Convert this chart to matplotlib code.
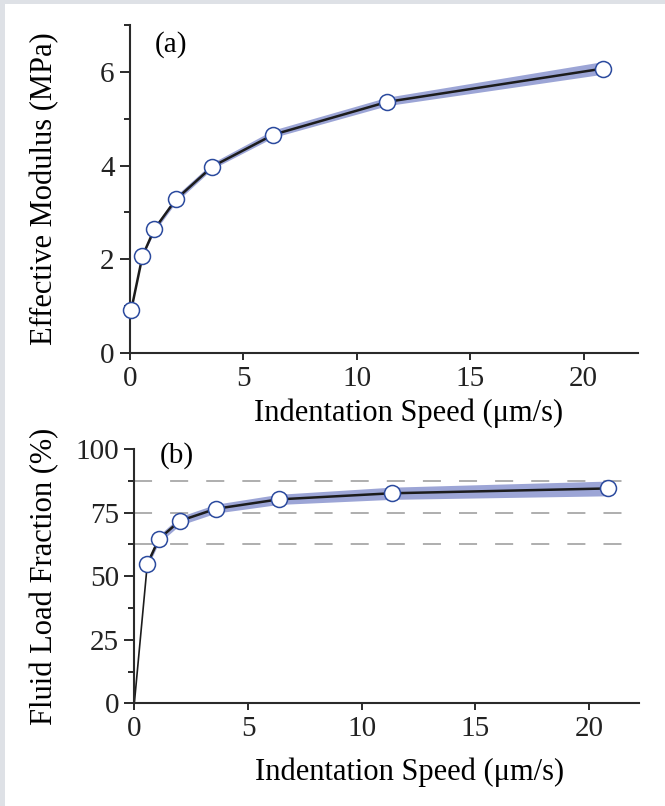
import numpy as np
import matplotlib.pyplot as plt
from matplotlib.patches import Rectangle

# indentation speeds (um/s)
speed_a = [0.05, 0.55, 1.07, 2.03, 3.63, 6.32, 11.35, 20.86]
modulus = [0.91, 2.07, 2.64, 3.28, 3.98, 4.66, 5.36, 6.07]
band_a_lo = [0.91, 2.06, 2.58, 3.22, 3.93, 4.60, 5.28, 5.95]
band_a_hi = [0.91, 2.10, 2.70, 3.36, 4.06, 4.76, 5.46, 6.22]

speed_b = [0.0, 0.57, 1.07, 1.99, 3.59, 6.35, 11.32, 20.83]
fluid_frac = [0.0, 54.7, 64.5, 71.7, 76.5, 80.2, 82.6, 84.5]
band_b_lo = [0.0, 53.5, 63.0, 70.0, 74.8, 78.2, 80.2, 81.6]
band_b_hi = [0.0, 56.0, 66.0, 73.4, 78.3, 82.2, 85.0, 87.4]
ref_levels = [62.5, 75, 87.5]

plt.rcParams['font.family'] = ['Liberation Serif', 'DejaVu Serif']
plt.rcParams['font.size'] = 21

line_col = '#1c1c1c'
band_col = '#9ca5d6'
edge_col = '#2b4a9e'
axis_col = '#2a2a2a'
label_size = 22


def style(ax):
    for s in ['top', 'right']:
        ax.spines[s].set_visible(False)
    for s in ['left', 'bottom']:
        ax.spines[s].set_linewidth(1.5)
        ax.spines[s].set_color(axis_col)
    ax.tick_params(axis='y', which='major', direction='out', length=7, width=1.4,
                   pad=4, colors=axis_col, labelcolor='#222222')
    ax.tick_params(axis='y', which='minor', direction='out', length=4.5, width=1.4,
                   colors=axis_col)
    ax.tick_params(axis='x', which='major', direction='out', length=5, width=1.4,
                   pad=4, colors=axis_col, labelcolor='#222222')


fig = plt.figure(figsize=(6.65, 8.06), dpi=100)
fig.patch.set_facecolor('#dee1e6')
fig.patches.append(Rectangle((5 / 665, 0), 1, 1 - 4 / 806, transform=fig.transFigure,
                             facecolor='white', edgecolor='none', zorder=-10))

# (a) effective modulus
ax1 = fig.add_axes([0.1955, 0.562, 0.764, 0.407])
ax1.fill_between(speed_a[1:], band_a_lo[1:], band_a_hi[1:], color=band_col, lw=0, zorder=1)
ax1.plot(speed_a, modulus, color=line_col, lw=1.8, zorder=2)
ax1.plot(speed_a, modulus, 'o', ms=11.5, mfc='white', mec=edge_col, mew=1.1, zorder=3,
         clip_on=False)
ax1.set_xlim(0, 22.4)
ax1.set_ylim(0, 7)
ax1.set_xticks([0, 5, 10, 15, 20])
ax1.set_yticks([0, 2, 4, 6])
ax1.set_yticks([1, 3, 5, 7], minor=True)
style(ax1)
ax1.set_xlabel('Indentation Speed (μm/s)', fontsize=label_size)
ax1.set_ylabel('Effective Modulus (MPa)', fontsize=label_size)
ax1.xaxis.set_label_coords(0.548, -0.14)
ax1.yaxis.set_label_coords(-0.14, 0.5)
ax1.text(0.049, 0.94, '(a)', transform=ax1.transAxes, va='center', ha='left')

# (b) fluid load fraction
ax2 = fig.add_axes([0.202, 0.1274, 0.759, 0.3155])
for lv in ref_levels:
    ax2.axhline(lv, color='#a8a8a8', lw=1.3, dashes=(10, 10), zorder=0)
ax2.fill_between(speed_b[1:], band_b_lo[1:], band_b_hi[1:], color=band_col, lw=0, zorder=1)
ax2.plot(speed_b[:2], fluid_frac[:2], color=line_col, lw=1.2, zorder=2)
ax2.plot(speed_b[1:], fluid_frac[1:], color=line_col, lw=1.8, zorder=2)
ax2.plot(speed_b[1:], fluid_frac[1:], 'o', ms=11.5, mfc='white', mec=edge_col, mew=1.1,
         zorder=3, clip_on=False)
ax2.set_xlim(0, 22.2)
ax2.set_ylim(0, 100)
ax2.set_xticks([0, 5, 10, 15, 20])
ax2.set_yticks([0, 25, 50, 75, 100])
ax2.set_yticks([12.5, 37.5, 62.5, 87.5], minor=True)
style(ax2)
ax2.set_xlabel('Indentation Speed (μm/s)', fontsize=label_size)
ax2.set_ylabel('Fluid Load Fraction (%)', fontsize=label_size)
ax2.xaxis.set_label_coords(0.545, -0.213)
ax2.yaxis.set_label_coords(-0.148, 0.5)
ax2.text(0.051, 0.976, '(b)', transform=ax2.transAxes, va='center', ha='left')

fig.savefig('out.png', dpi=100, facecolor=fig.get_facecolor())
